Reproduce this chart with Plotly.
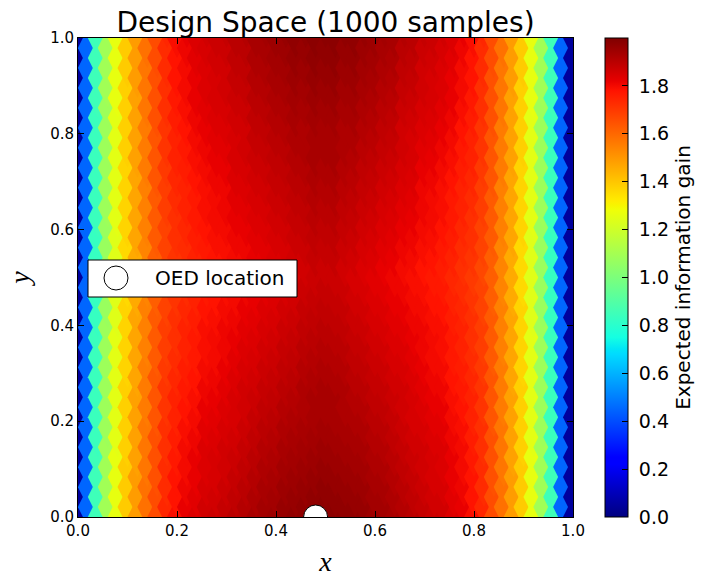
import numpy as np
import plotly.graph_objects as go

# ---------------- data ----------------
x_ticks = [0.0, 0.2, 0.4, 0.6, 0.8, 1.0]
y_ticks = [0.0, 0.2, 0.4, 0.6, 0.8, 1.0]
cbar_ticks = [0.0, 0.2, 0.4, 0.6, 0.8, 1.0, 1.2, 1.4, 1.6, 1.8]

n_cols = 51   # design points along x (0 .. 1)
n_rows = 25   # design points along y (0 .. 1)

# expected information gain, one list per lattice row (51 columns, x = 0 .. 1)
# band_12 = rows at y=0 and y=1, band_0 = row at y=0.5
eig_band_12 = [0.05,0.45,0.85,1.09,1.26,1.39,1.49,1.58,1.66,1.74,1.79,1.82,1.84,1.86,1.87,1.88,1.90,1.91,1.93,1.94,1.95,1.96,1.97,1.97,1.98,1.98,
               1.98,1.97,1.97,1.96,1.95,1.94,1.93,1.91,1.90,1.88,1.87,1.86,1.84,1.82,1.79,1.74,1.66,1.58,1.49,1.39,1.26,1.09,0.85,0.45,0.05]
eig_band_11 = [0.05,0.45,0.85,1.09,1.26,1.39,1.49,1.58,1.66,1.73,1.78,1.81,1.83,1.85,1.86,1.87,1.89,1.90,1.92,1.93,1.94,1.95,1.96,1.96,1.97,1.97,
               1.97,1.96,1.96,1.95,1.94,1.93,1.92,1.90,1.89,1.87,1.86,1.85,1.83,1.81,1.78,1.73,1.66,1.58,1.49,1.39,1.26,1.09,0.85,0.45,0.05]
eig_band_10 = [0.05,0.45,0.85,1.09,1.26,1.39,1.49,1.57,1.65,1.73,1.78,1.80,1.82,1.84,1.85,1.86,1.88,1.89,1.91,1.92,1.93,1.94,1.95,1.95,1.96,1.96,
               1.96,1.95,1.95,1.94,1.93,1.92,1.91,1.89,1.88,1.86,1.85,1.84,1.82,1.80,1.78,1.73,1.65,1.57,1.49,1.39,1.26,1.09,0.85,0.45,0.05]
eig_band_9 = [0.05,0.45,0.85,1.09,1.26,1.38,1.48,1.57,1.65,1.72,1.77,1.80,1.82,1.84,1.85,1.86,1.87,1.88,1.90,1.91,1.92,1.93,1.94,1.94,1.95,1.95,
              1.95,1.94,1.94,1.93,1.92,1.91,1.90,1.88,1.87,1.86,1.85,1.84,1.82,1.80,1.77,1.72,1.65,1.57,1.48,1.38,1.26,1.09,0.85,0.45,0.05]
eig_band_8 = [0.05,0.45,0.84,1.08,1.25,1.38,1.48,1.57,1.65,1.72,1.76,1.79,1.81,1.83,1.84,1.85,1.86,1.87,1.89,1.90,1.91,1.92,1.93,1.93,1.94,1.94,
              1.94,1.93,1.93,1.92,1.91,1.90,1.89,1.87,1.86,1.85,1.84,1.83,1.81,1.79,1.76,1.72,1.65,1.57,1.48,1.38,1.25,1.08,0.84,0.45,0.05]
eig_band_7 = [0.05,0.45,0.84,1.08,1.25,1.38,1.48,1.56,1.64,1.71,1.75,1.78,1.80,1.82,1.83,1.84,1.85,1.86,1.88,1.89,1.90,1.91,1.92,1.92,1.93,1.93,
              1.93,1.92,1.92,1.91,1.90,1.89,1.88,1.86,1.85,1.84,1.83,1.82,1.80,1.78,1.75,1.71,1.64,1.56,1.48,1.38,1.25,1.08,0.84,0.45,0.05]
eig_band_6 = [0.05,0.45,0.84,1.08,1.25,1.38,1.48,1.56,1.64,1.71,1.75,1.77,1.79,1.81,1.82,1.83,1.85,1.86,1.87,1.88,1.89,1.90,1.91,1.92,1.93,1.93,
              1.93,1.92,1.91,1.90,1.89,1.88,1.87,1.86,1.85,1.83,1.82,1.81,1.79,1.77,1.75,1.71,1.64,1.56,1.48,1.38,1.25,1.08,0.84,0.45,0.05]
eig_band_5 = [0.05,0.45,0.84,1.08,1.25,1.37,1.47,1.56,1.64,1.70,1.74,1.76,1.78,1.80,1.81,1.82,1.84,1.85,1.86,1.87,1.88,1.89,1.90,1.91,1.92,1.92,
              1.92,1.91,1.90,1.89,1.88,1.87,1.86,1.85,1.84,1.82,1.81,1.80,1.78,1.76,1.74,1.70,1.64,1.56,1.47,1.37,1.25,1.08,0.84,0.45,0.05]
eig_band_4 = [0.05,0.45,0.84,1.08,1.25,1.37,1.47,1.55,1.63,1.69,1.73,1.75,1.77,1.79,1.80,1.81,1.83,1.84,1.85,1.86,1.87,1.88,1.89,1.90,1.91,1.91,
              1.91,1.90,1.89,1.88,1.87,1.86,1.85,1.84,1.83,1.81,1.80,1.79,1.77,1.75,1.73,1.69,1.63,1.55,1.47,1.37,1.25,1.08,0.84,0.45,0.05]
eig_band_3 = [0.05,0.45,0.84,1.08,1.25,1.37,1.47,1.55,1.63,1.69,1.72,1.75,1.77,1.79,1.80,1.81,1.82,1.83,1.84,1.85,1.86,1.87,1.88,1.89,1.90,1.90,
              1.90,1.89,1.88,1.87,1.86,1.85,1.84,1.83,1.82,1.81,1.80,1.79,1.77,1.75,1.72,1.69,1.63,1.55,1.47,1.37,1.25,1.08,0.84,0.45,0.05]
eig_band_2 = [0.05,0.45,0.83,1.07,1.24,1.37,1.47,1.55,1.63,1.68,1.72,1.74,1.76,1.78,1.79,1.80,1.81,1.82,1.83,1.84,1.85,1.86,1.87,1.88,1.89,1.89,
              1.89,1.88,1.87,1.86,1.85,1.84,1.83,1.82,1.81,1.80,1.79,1.78,1.76,1.74,1.72,1.68,1.63,1.55,1.47,1.37,1.24,1.07,0.83,0.45,0.05]
eig_band_1 = [0.05,0.45,0.83,1.07,1.24,1.36,1.46,1.54,1.62,1.68,1.71,1.73,1.75,1.77,1.78,1.79,1.80,1.81,1.82,1.83,1.84,1.85,1.86,1.87,1.88,1.88,
              1.88,1.87,1.86,1.85,1.84,1.83,1.82,1.81,1.80,1.79,1.78,1.77,1.75,1.73,1.71,1.68,1.62,1.54,1.46,1.36,1.24,1.07,0.83,0.45,0.05]
eig_band_0 = [0.05,0.45,0.83,1.07,1.24,1.36,1.46,1.54,1.62,1.67,1.70,1.72,1.74,1.76,1.77,1.78,1.79,1.80,1.81,1.82,1.83,1.84,1.85,1.86,1.87,1.87,
              1.87,1.86,1.85,1.84,1.83,1.82,1.81,1.80,1.79,1.78,1.77,1.76,1.74,1.72,1.70,1.67,1.62,1.54,1.46,1.36,1.24,1.07,0.83,0.45,0.05]

# rows from y=0 (bottom) to y=1 (top)
eig_rows = [eig_band_12, eig_band_11, eig_band_10, eig_band_9, eig_band_8, eig_band_7,
            eig_band_6, eig_band_5, eig_band_4, eig_band_3, eig_band_2, eig_band_1,
            eig_band_0,
            eig_band_1, eig_band_2, eig_band_3, eig_band_4, eig_band_5, eig_band_6,
            eig_band_7, eig_band_8, eig_band_9, eig_band_10, eig_band_11, eig_band_12]

oed_x = [0.48]
oed_y = [0.0]

# ---------------- lattice of design points ----------------
x_cols = np.linspace(0.0, 1.0, n_cols)
y_rows = np.linspace(0.0, 1.0, n_rows)
row_step = y_rows[1] - y_rows[0]

px, py, pz = [], [], []
for i, xv in enumerate(x_cols):
    shift = row_step / 2.0 if i % 2 else 0.0
    for j, yv in enumerate(y_rows):
        px.append(xv)
        py.append(yv + shift)
        pz.append(eig_rows[j][i])

# matplotlib "jet" colormap
red_pts = [(0, 0), (0.35, 0), (0.66, 1), (0.89, 1), (1, 0.5)]
green_pts = [(0, 0), (0.125, 0), (0.375, 1), (0.64, 1), (0.91, 0), (1, 0)]
blue_pts = [(0, 0.5), (0.11, 1), (0.34, 1), (0.65, 0), (1, 0)]
stops = sorted(set([p for p, _ in red_pts + green_pts + blue_pts]))
def chan(pts, t):
    return float(np.interp(t, [p for p, _ in pts], [v for _, v in pts]))
jet = [[t, "rgb(%d,%d,%d)" % (round(255 * chan(red_pts, t)), round(255 * chan(green_pts, t)),
                               round(255 * chan(blue_pts, t)))] for t in stops]

FONT = "DejaVu Sans"
NBSP = "\u00a0"

fig = go.Figure()
fig.add_trace(go.Scatter(
    x=px, y=py, mode="markers", showlegend=False, hoverinfo="skip",
    marker=dict(
        symbol="diamond-tall", size=28.5, color=pz, colorscale=jet,
        cmin=0.0, cmax=2.0, line=dict(width=0),
        colorbar=dict(
            x=(605 - 78) / 495, xref="paper", xanchor="left", xpad=0,
            y=0.5, yanchor="middle", len=1.0, lenmode="fraction", ypad=0,
            thickness=23, outlinewidth=1, outlinecolor="black",
            ticks="inside", ticklen=6, tickcolor="black",
            tickvals=cbar_ticks, ticktext=[NBSP + "%.1f" % v for v in cbar_ticks],
            tickfont=dict(family=FONT, size=19, color="black"),
            title=dict(text="Expected information gain", side="right",
                       font=dict(family=FONT, size=20, color="black")),
        ),
    ),
))

fig.add_trace(go.Scatter(
    x=oed_x, y=oed_y, mode="markers", showlegend=False, name="OED location",
    marker=dict(symbol="circle", size=24, color="white", line=dict(color="black", width=1)),
))

axis_common = dict(
    range=[0, 1], showgrid=False, zeroline=False, showline=True, linecolor="black",
    linewidth=1, mirror="allticks", ticks="inside", ticklen=6, tickcolor="black",
    tickfont=dict(family=FONT, size=15, color="black"),
)
fig.update_xaxes(**axis_common, tickvals=x_ticks, ticktext=["%.1f" % v for v in x_ticks],
                 title=dict(text="<i>x</i>", font=dict(family="Liberation Serif", size=28, color="black"),
                            standoff=12))
fig.update_yaxes(**axis_common, tickvals=y_ticks, ticktext=["%.1f" % v for v in y_ticks],
                 title=dict(text="<i>y</i>", font=dict(family="Liberation Serif", size=28, color="black"),
                            standoff=12))

# legend box drawn like matplotlib's
cx = (116 - 78) / 495
cy = (517 - 278) / 479
fig.add_shape(type="rect", xref="paper", yref="paper",
              x0=(88 - 78) / 495, x1=(297 - 78) / 495, y0=(517 - 297) / 479, y1=(517 - 260) / 479,
              fillcolor="white", line=dict(color="black", width=1))
fig.add_shape(type="circle", xref="paper", yref="paper", xsizemode="pixel", ysizemode="pixel",
              xanchor=cx, yanchor=cy, x0=-12, x1=12, y0=-12, y1=12,
              fillcolor="white", line=dict(color="black", width=1))
fig.add_annotation(text="OED location", xref="paper", yref="paper", x=(153 - 78) / 495, y=cy,
                   xanchor="left", yanchor="middle", showarrow=False,
                   font=dict(family=FONT, size=20, color="black"))

fig.update_layout(
    width=703, height=587,
    margin=dict(l=78, r=130, t=38, b=70, autoexpand=False),
    paper_bgcolor="white", plot_bgcolor="white",
    title=dict(text="Design Space (1000 samples)", xref="paper", x=0.5, xanchor="center",
               yref="container", y=1 - 22 / 587, yanchor="middle",
               font=dict(family=FONT, size=28, color="black")),
    showlegend=False,
)

fig.write_html("out.html")
